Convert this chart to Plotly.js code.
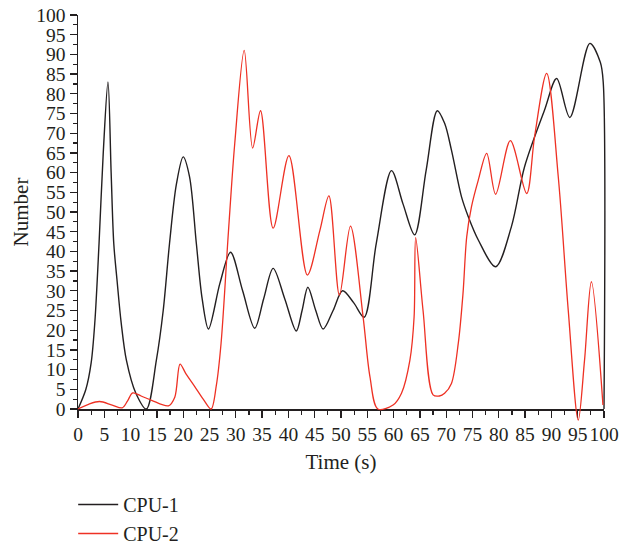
<!DOCTYPE html>
<html>
<head>
<meta charset="utf-8">
<script src="https://cdn.plot.ly/plotly-3.0.1.min.js"></script>
<style>
  html, body { margin: 0; padding: 0; background: #ffffff; }
  #chart { width: 636px; height: 546px; }
</style>
</head>
<body>
<div id="chart"></div>
<script>
// ---- data ----
const seriesNames = ["CPU-1", "CPU-2"];

const cpu1Time = [0, 1.5, 2.5, 3.2, 4, 4.8, 5.7, 6.3, 6.8, 7.4, 8.2, 9.2, 11, 13,
  14.9, 16.2, 17.4, 18.7, 20, 21.2, 22.5, 23.6, 24.8, 27, 29, 31.3, 33.6, 35.3, 37.1,
  39.3, 41.5, 42.6, 43.7, 45.2, 46.6, 48.5, 50.3, 52.4, 54.4, 56.7, 59.6, 61.8, 64,
  66.2, 68.3, 69.7, 71, 72.9, 74.2, 76.1, 79.4, 82.4, 84.9, 88.7, 91, 93.5, 97.3,
  99.3, 99.85, 100];
const cpu1Value = [0, 5, 11.7, 22, 42, 65, 83, 60, 42, 33, 22, 12.4, 4, 0,
  12.4, 25, 42, 57, 64, 59, 42, 28, 20.3, 32, 39.8, 30, 20.5, 28, 35.7,
  28, 19.8, 25, 30.9, 25, 20.3, 25, 30, 27, 23.3, 42, 60.5, 52, 44.2,
  60.7, 75.7, 72.5, 65.7, 53.9, 48.8, 42.9, 36.1, 46.3, 61.5, 75.9, 83.9, 74, 92.8,
  88, 83, 0];

const cpu2Time = [0, 2, 4.1, 6.5, 8.4, 9.4, 10.4, 12, 14, 17.2, 18.4, 19.4, 20.5,
  22.2, 23.8, 25.3, 26.3, 27.2, 28.6, 29.8, 31.6, 33.2, 34.7, 37.1, 40.1, 43.6, 46,
  47.7, 49.7, 51.8, 54.2, 55.5, 57, 59.9, 61.5, 63.1, 63.9, 64.2, 65.6, 67.5, 68.7,
  69.7, 71, 72.3, 73.2, 73.9, 74.8, 76.1, 77.7, 79.4, 82.2, 85.3, 86.8, 89.1, 91.3,
  93.2, 95.1, 96.3, 97.6, 99.8];
const cpu2Value = [0, 1.2, 1.9, 1, 0.3, 2, 4.1, 3.3, 2.2, 0.8, 3, 11.4, 9,
  5.7, 2.5, 0, 6, 16.7, 45, 67.4, 91, 66.2, 75.7, 45.9, 64.3, 34, 45.4,
  54.1, 28.9, 46.4, 23.4, 8.2, 0, 1, 4, 12.4, 23.4, 43.5, 25, 3.6, 3.3,
  4, 6.5, 16.7, 29.4, 43.7, 51.3, 58.1, 64.9, 54.5, 68.1, 54.7, 69.1, 85.2, 59,
  25.1, -2.8, 12.4, 32.3, 1];

const xTitle = "Time (s)";
const yTitle = "Number";

// ---- styling / layout ----
const ink = "#231f20";
const fontFam = "'Liberation Serif', 'DejaVu Serif', serif";
const colors = ["#231f20", "#ee3124"];

const W = 636, H = 546;
const mL = 78, mR = 22, mT = 15, mB = 123;
const plotRightPx = 604;          // x = 100
const plotBottomPx = 409;         // y = 0
const paperW = W - mL - mR;
const paperH = H - mT - mB;
const xMainFrac = (plotRightPx - mL) / paperW;
const yMainFrac = (H - mB - plotBottomPx) / paperH;
const pxPerX = (plotRightPx - mL) / 100;
const pxPerY = (plotBottomPx - mT) / 100;

const traces = [
  {x: [null], y: [null], xaxis: "x", yaxis: "y", showlegend: false, hoverinfo: "skip", mode: "lines"},
  {x: cpu1Time, y: cpu1Value, name: seriesNames[0], xaxis: "x2", yaxis: "y2", mode: "lines",
   line: {color: colors[0], width: 1.4, shape: "spline", smoothing: 0.9}},
  {x: cpu2Time, y: cpu2Value, name: seriesNames[1], xaxis: "x2", yaxis: "y2", mode: "lines",
   line: {color: colors[1], width: 1.3, shape: "spline", smoothing: 0.9}}
];

const tickFont = {family: fontFam, size: 19.5, color: ink};
const titleFont = {family: fontFam, size: 21, color: ink};

const layout = {
  width: W, height: H,
  margin: {l: mL, r: mR, t: mT, b: mB, pad: 0, autoexpand: false},
  paper_bgcolor: "#ffffff",
  plot_bgcolor: "rgba(0,0,0,0)",
  showlegend: true,
  font: {family: fontFam, color: ink, size: 21},
  xaxis: {
    domain: [0, xMainFrac], anchor: "y",
    range: [0, 100], dtick: 5, tick0: 0,
    showgrid: false, zeroline: false,
    showline: true, linecolor: ink, linewidth: 1.5,
    ticks: "outside", ticklen: 7, tickwidth: 1.3, tickcolor: ink,
    minor: {dtick: 2.5, ticks: "outside", ticklen: 4, tickwidth: 1.2, tickcolor: ink, showgrid: false},
    tickfont: tickFont, tickangle: 0,
    title: {text: xTitle, font: titleFont, standoff: 10},
    automargin: false,
    fixedrange: true
  },
  yaxis: {
    domain: [yMainFrac, 1], anchor: "x",
    range: [0, 100], dtick: 5, tick0: 0,
    showgrid: false, zeroline: false,
    showline: true, linecolor: ink, linewidth: 1.5,
    ticks: "outside", ticklen: 7, tickwidth: 1.3, tickcolor: ink,
    minor: {dtick: 2.5, ticks: "outside", ticklen: 4, tickwidth: 1.2, tickcolor: ink, showgrid: false},
    tickfont: tickFont,
    title: {text: yTitle, font: titleFont, standoff: 2},
    automargin: false,
    fixedrange: true
  },
  xaxis2: {
    domain: [0, 1], anchor: "y2",
    range: [0, paperW / pxPerX],
    visible: false, fixedrange: true
  },
  yaxis2: {
    domain: [0, 1], anchor: "x2",
    range: [-((H - mB) - plotBottomPx) / pxPerY, 100],
    visible: false, fixedrange: true
  },
  legend: {
    x: -0.009, xanchor: "left",
    y: -0.152, yanchor: "top",
    orientation: "v",
    bgcolor: "rgba(0,0,0,0)",
    font: {family: fontFam, size: 20, color: ink},
    itemwidth: 40,
    tracegroupgap: 0
  }
};

Plotly.newPlot("chart", traces, layout, {displayModeBar: false, staticPlot: true});
</script>
</body>
</html>
